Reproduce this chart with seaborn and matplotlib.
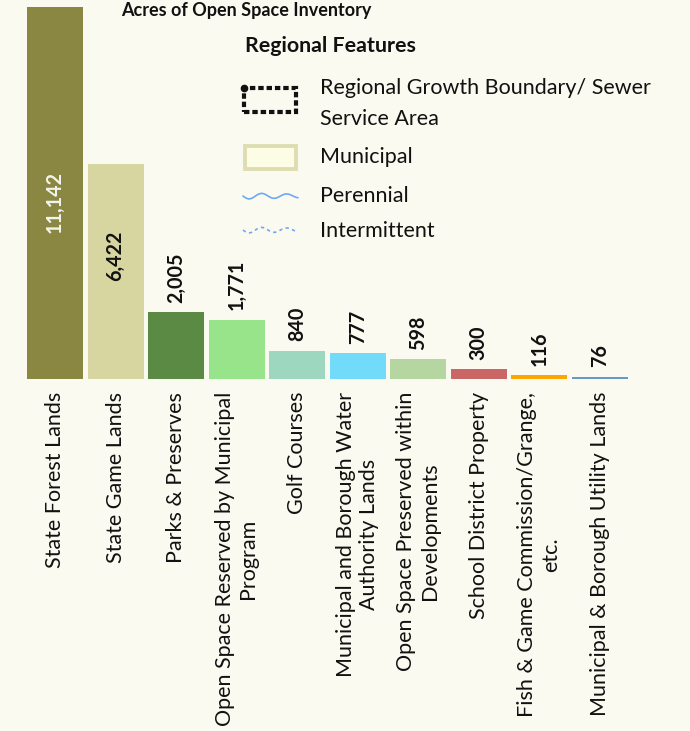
import matplotlib
matplotlib.use("Agg")
import matplotlib.pyplot as plt
import matplotlib.transforms as mtransforms
import seaborn as sns
import pandas as pd
import numpy as np
from matplotlib.patches import Rectangle
from matplotlib.lines import Line2D

# ---------------- data ----------------
categories = [
    "State Forest Lands",
    "State Game Lands",
    "Parks & Preserves",
    "Open Space Reserved by Municipal\nProgram",
    "Golf Courses",
    "Municipal and Borough Water\nAuthority Lands",
    "Open Space Preserved within\nDevelopments",
    "School District Property",
    "Fish & Game Commission/Grange,\netc.",
    "Municipal & Borough Utility Lands",
]
acres = [11142, 6422, 2005, 1771, 840, 777, 598, 300, 116, 76]
value_labels = ["11,142", "6,422", "2,005", "1,771", "840", "777", "598", "300", "116", "76"]
bar_colors = ["#8A8742", "#D8D6A0", "#5B8A45", "#98E48A", "#9ED7BF",
              "#72DBFA", "#B5D6A0", "#CB6666", "#FFA500", "#6699CC"]
title = "Acres of Open Space Inventory"
legend_title = "Regional Features"
legend_labels = ["Regional Growth Boundary/ Sewer", "Service Area",
                 "Municipal", "Perennial", "Intermittent"]

# ---------------- style ----------------
BG = "#FBFAF0"
sns.set_theme(style="white")
plt.rcParams["font.family"] = ["Lato", "DejaVu Sans"]

W, H = 690, 731
fig = plt.figure(figsize=(W / 100, H / 100), dpi=100, facecolor=BG)

def fx(px):
    return px / W

def fy(py):
    return 1 - py / H

# axes: left 24.75px, right 630px, bottom at y=379.3px, top at figure top
ax_left, ax_right, ax_bottom = 24.75, 630.0, 379.3
ax = fig.add_axes([fx(ax_left), fy(ax_bottom), fx(ax_right - ax_left), ax_bottom / H])
ax.set_facecolor("none")

df = pd.DataFrame({"category": categories, "acres": acres})
sns.barplot(data=df, x="category", y="acres", hue="category", palette=bar_colors,
            width=0.925, saturation=1, legend=False, ax=ax, edgecolor="none")

ymax = acres[0] * ax_bottom / 372.7
ax.set_ylim(0, ymax)
ax.set_xlim(-0.5, len(categories) - 0.5)
for s in ax.spines.values():
    s.set_visible(False)
ax.set_yticks([])
ax.set_xlabel("")
ax.set_ylabel("")
ax.set_xticks(range(len(categories)))
ax.set_xticklabels(categories, rotation=90, fontsize=15.5, color="#111111",
                   multialignment="center", linespacing=1.22)
ax.tick_params(axis="x", length=0, pad=9.0)

# value labels
above = mtransforms.offset_copy(ax.transData, fig=fig, x=0, y=7, units="points")
inside_frac = {0: 0.476, 1: 0.574}
inside_color = {0: "#F4F4F0", 1: "#111111"}
for i, (v, lab) in enumerate(zip(acres, value_labels)):
    if i in inside_frac:
        ax.text(i, v * inside_frac[i], lab, rotation=90, ha="center", va="center",
                fontsize=14.2, fontweight="bold", color=inside_color[i])
    else:
        ax.text(i, v, lab, rotation=90, ha="center", va="bottom",
                fontsize=14.2, fontweight="bold", color="#111111", transform=above)

# title at the very top
fig.text(fx(246), fy(2), title, ha="center", va="top",
         fontsize=13, fontweight="bold", color="#111111")

# ---------------- legend overlay ----------------
fig.text(fx(245), fy(46), legend_title, ha="left", va="center",
         fontsize=15.4, fontweight="bold", color="#111111")

# dashed boundary symbol
r1 = Rectangle((fx(244), fy(112)), fx(52), 24 / H, transform=fig.transFigure,
               fill=False, edgecolor="#111111", lw=3.0, linestyle=(0, (1.3, 0.7)))
fig.add_artist(r1)
fig.add_artist(Line2D([fx(244)], [fy(88)], transform=fig.transFigure, marker="o",
                      markersize=4.5, color="#111111"))

# municipal symbol
r2 = Rectangle((fx(244.5), fy(168.5)), fx(51), 23 / H, transform=fig.transFigure,
               facecolor="#FDFCE4", edgecolor="#DEDDB2", lw=2.8)
fig.add_artist(r2)

# stream symbols (wavy glyphs)
t = np.linspace(0, 1, 80)
wave_x = 243 + 55 * t
wave_y = 3.0 * np.sin(2 * np.pi * 2.2 * t) * (1 - 0.4 * t)
fig.add_artist(Line2D(fx(wave_x), fy(196 + wave_y), transform=fig.transFigure,
                      color="#6FA8F5", lw=1.2))
fig.add_artist(Line2D(fx(wave_x), fy(230 + wave_y), transform=fig.transFigure,
                      color="#6FA8F5", lw=1.2, linestyle=(0, (2, 2))))

leg_y = [88, 119, 157, 196, 231]
for lab, yy in zip(legend_labels, leg_y):
    fig.text(fx(320), fy(yy), lab, ha="left", va="center",
             fontsize=15.5, color="#111111")

fig.savefig("out.png", dpi=100, facecolor=BG)
